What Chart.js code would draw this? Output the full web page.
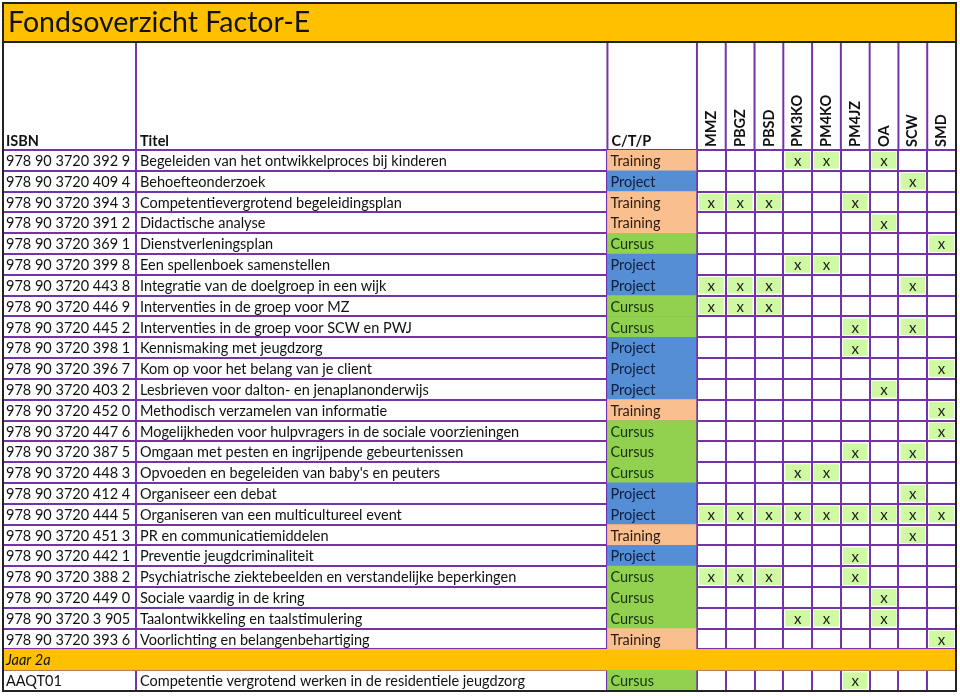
<!DOCTYPE html>
<html>
<head>
<meta charset="utf-8">
<script src="https://cdn.jsdelivr.net/npm/chart.js@4.4.1/dist/chart.umd.min.js"></script>
<style>
  html, body { margin: 0; padding: 0; background: #ffffff; }
  #wrap { width: 960px; height: 696px; }
</style>
</head>
<body>
<div id="wrap"><canvas id="fonds" width="960" height="696"></canvas></div>
<script>
// --- data read from the sheet ---
const title = 'Fondsoverzicht Factor-E';
const columns = ['MMZ', 'PBGZ', 'PBSD', 'PM3KO', 'PM4KO', 'PM4JZ', 'OA', 'SCW', 'SMD'];
const isbns = [
    '978 90 3720 392 9', '978 90 3720 409 4', '978 90 3720 394 3', '978 90 3720 391 2',
    '978 90 3720 369 1', '978 90 3720 399 8', '978 90 3720 443 8', '978 90 3720 446 9',
    '978 90 3720 445 2', '978 90 3720 398 1', '978 90 3720 396 7', '978 90 3720 403 2',
    '978 90 3720 452 0', '978 90 3720 447 6', '978 90 3720 387 5', '978 90 3720 448 3',
    '978 90 3720 412 4', '978 90 3720 444 5', '978 90 3720 451 3', '978 90 3720 442 1',
    '978 90 3720 388 2', '978 90 3720 449 0', '978 90 3720 3 905', '978 90 3720 393 6',
    'Jaar 2a', 'AAQT01'
];
const titles = [
    'Begeleiden van het ontwikkelproces bij kinderen', 'Behoefteonderzoek',
    'Competentievergrotend begeleidingsplan', 'Didactische analyse',
    'Dienstverleningsplan', 'Een spellenboek samenstellen',
    'Integratie van de doelgroep in een wijk', 'Interventies in de groep voor MZ',
    'Interventies in de groep voor SCW en PWJ', 'Kennismaking met jeugdzorg',
    'Kom op voor het belang van je client', 'Lesbrieven voor dalton- en jenaplanonderwijs',
    'Methodisch verzamelen van informatie', 'Mogelijkheden voor hulpvragers in de sociale voorzieningen',
    'Omgaan met pesten en ingrijpende gebeurtenissen', "Opvoeden en begeleiden van baby's en peuters",
    'Organiseer een debat', 'Organiseren van een multicultureel event',
    'PR en communicatiemiddelen', 'Preventie jeugdcriminaliteit',
    'Psychiatrische ziektebeelden en verstandelijke beperkingen', 'Sociale vaardig in de kring',
    'Taalontwikkeling en taalstimulering', 'Voorlichting en belangenbehartiging',
    '', 'Competentie vergrotend werken in de residentiele jeugdzorg'
];
const types = [
    'Training', 'Project', 'Training', 'Training', 'Cursus', 'Project', 'Project', 'Cursus',
    'Cursus', 'Project', 'Project', 'Project', 'Training', 'Cursus', 'Cursus', 'Cursus',
    'Project', 'Project', 'Training', 'Project', 'Cursus', 'Cursus', 'Cursus', 'Training',
    '', 'Cursus'
];
const marks = [
    ['PM3KO', 'PM4KO', 'OA'], ['SCW'], ['MMZ', 'PBGZ', 'PBSD', 'PM4JZ'], ['OA'],
    ['SMD'], ['PM3KO', 'PM4KO'], ['MMZ', 'PBGZ', 'PBSD', 'SCW'], ['MMZ', 'PBGZ', 'PBSD'],
    ['PM4JZ', 'SCW'], ['PM4JZ'], ['SMD'], ['OA'],
    ['SMD'], ['SMD'], ['PM4JZ', 'SCW'], ['PM3KO', 'PM4KO'],
    ['SCW'], ['MMZ', 'PBGZ', 'PBSD', 'PM3KO', 'PM4KO', 'PM4JZ', 'OA', 'SCW', 'SMD'], ['SCW'], ['PM4JZ'],
    ['MMZ', 'PBGZ', 'PBSD', 'PM4JZ'], ['OA'], ['PM3KO', 'PM4KO', 'OA'], ['SMD'],
    [], ['PM4JZ']
];
const sectionRows = ['Jaar 2a'];

// --- layout (x in "mark column" units, mark columns are 0..9) ---
const EDGE_ISBN = -24.11, EDGE_TITEL = -19.49, EDGE_CTP = -3.11;
const PURPLE = '#7434a8';
const ORANGE = '#ffc000';
const FONT = 'Lato, "Open Sans", sans-serif';
const typeFill = { Training: '#fabf8f', Project: '#558ed5', Cursus: '#92d050' };
const typeText = { Training: '#2a1a0c', Project: '#0d1f40', Cursus: '#15300a' };

const edges = [EDGE_ISBN, EDGE_TITEL, EDGE_CTP].concat(columns.map((c, i) => i), [columns.length]);

// datasets: type cells, section band, one per mark column
const datasets = [];
datasets.push({
    label: 'C/T/P',
    data: types.map(t => t ? [EDGE_CTP, 0] : null),
    backgroundColor: types.map(t => typeFill[t] || 'transparent'),
    barPercentage: 1, categoryPercentage: 1
});
datasets.push({
    label: 'sectie',
    data: isbns.map(id => sectionRows.includes(id) ? [EDGE_ISBN, columns.length] : null),
    backgroundColor: ORANGE,
    barPercentage: 1, categoryPercentage: 1
});
columns.forEach((col, c) => {
    datasets.push({
        label: col,
        isMark: true,
        data: marks.map(m => m.includes(col) ? [c + 0.07, c + 0.93] : null),
        backgroundColor: '#cffaa3',
        barPercentage: 0.8, categoryPercentage: 1
    });
});
datasets.forEach(d => { d.grouped = false; d.borderWidth = 0; });

const tablePlugin = {
    id: 'tablePlugin',
    afterDatasetsDraw(chart) {
        const ctx = chart.ctx;
        ctx.save();
        ctx.fillStyle = '#1a1a1a';
        ctx.font = '15px ' + FONT;
        ctx.textAlign = 'center';
        ctx.textBaseline = 'middle';
        chart.data.datasets.forEach((d, i) => {
            if (!d.isMark) return;
            chart.getDatasetMeta(i).data.forEach((bar, r) => {
                if (d.data[r] == null) return;
                ctx.fillText('x', (bar.x + bar.base) / 2, bar.y + 1);
            });
        });
        ctx.restore();
    },
    afterDraw(chart) {
        const ctx = chart.ctx;
        const xs = chart.scales.x, ys = chart.scales.y;
        const area = chart.chartArea;
        ctx.save();

        // title band
        ctx.fillStyle = ORANGE;
        ctx.fillRect(area.left, 3, area.right - area.left, 39);
        ctx.fillStyle = '#111';
        ctx.font = '28.5px ' + FONT;
        ctx.textBaseline = 'middle';
        ctx.textAlign = 'left';
        ctx.fillText(title, 8, 23);

        // header vertical lines
        ctx.strokeStyle = PURPLE;
        ctx.lineWidth = 2;
        edges.slice(1, -1).forEach(v => {
            const px = xs.getPixelForValue(v);
            ctx.beginPath();
            ctx.moveTo(px, 42);
            ctx.lineTo(px, area.top);
            ctx.stroke();
        });

        // header labels
        ctx.fillStyle = '#111';
        ctx.font = 'bold 14.5px ' + FONT;
        ctx.textBaseline = 'alphabetic';
        ctx.fillText('ISBN', xs.getPixelForValue(EDGE_ISBN) + 3, area.top - 4);
        ctx.fillText('Titel', xs.getPixelForValue(EDGE_TITEL) + 4, area.top - 4);
        ctx.fillText('C/T/P', xs.getPixelForValue(EDGE_CTP) + 4, area.top - 4);
        columns.forEach((col, c) => {
            const cx = xs.getPixelForValue(c + 0.5);
            ctx.save();
            ctx.translate(cx, area.top - 3);
            ctx.rotate(-Math.PI / 2);
            ctx.textBaseline = 'middle';
            ctx.textAlign = 'left';
            ctx.fillText(col, 0, 0);
            ctx.restore();
        });

        // row texts
        ctx.textBaseline = 'middle';
        isbns.forEach((id, r) => {
            const cy = ys.getPixelForValue(r) + 1;
            const isSection = sectionRows.includes(id);
            ctx.fillStyle = '#111';
            ctx.font = (isSection ? 'italic ' : '') + '14.5px ' + FONT;
            ctx.fillText(id, xs.getPixelForValue(EDGE_ISBN) + 3, cy);
            ctx.font = '14.5px ' + FONT;
            ctx.fillText(titles[r], xs.getPixelForValue(EDGE_TITEL) + 4, cy);
            if (types[r]) {
                ctx.fillStyle = typeText[types[r]];
                ctx.fillText(types[r], xs.getPixelForValue(EDGE_CTP) + 3, cy);
            }
        });

        // outer borders
        ctx.strokeStyle = '#222';
        ctx.lineWidth = 2;
        ctx.strokeRect(area.left, 3, area.right - area.left, area.bottom - 3);
        ctx.beginPath();
        ctx.moveTo(area.left, 42);
        ctx.lineTo(area.right, 42);
        ctx.stroke();
        ctx.restore();
    }
};

new Chart(document.getElementById('fonds'), {
    type: 'bar',
    data: { labels: isbns, datasets: datasets },
    options: {
        indexAxis: 'y',
        responsive: false,
        animation: false,
        events: [],
        layout: { padding: { left: 3, right: 4, top: 150, bottom: 5 } },
        plugins: { legend: { display: false }, tooltip: { enabled: false } },
        scales: {
            x: {
                type: 'linear',
                min: EDGE_ISBN,
                max: columns.length,
                z: 1,
                afterBuildTicks: s => { s.ticks = edges.map(v => ({ value: v })); },
                afterFit: s => { s.height = 0; },
                ticks: { display: false },
                border: { display: false },
                grid: { color: PURPLE, lineWidth: 2, drawTicks: false }
            },
            y: {
                type: 'category',
                z: 1,
                afterFit: s => { s.width = 0; },
                ticks: { display: false },
                border: { display: false },
                grid: { color: PURPLE, lineWidth: 2, drawTicks: false, offset: true }
            }
        }
    },
    plugins: [tablePlugin]
});
</script>
</body>
</html>
